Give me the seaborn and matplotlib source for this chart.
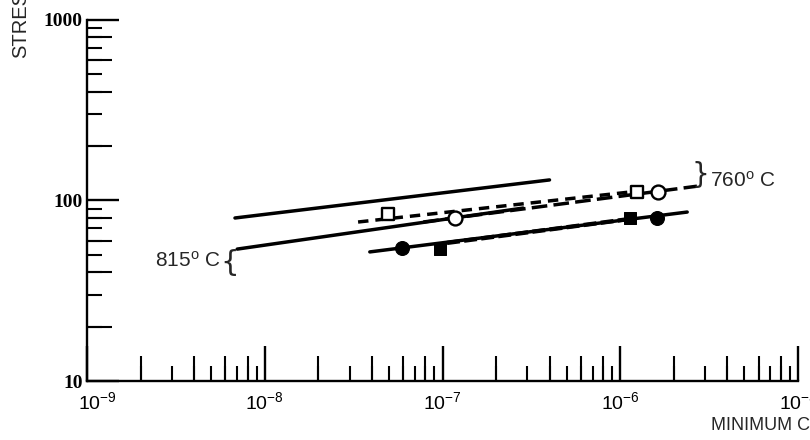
import numpy as np
import pandas as pd
import seaborn as sns
import matplotlib.pyplot as plt
import matplotlib.transforms as mtransforms
from matplotlib.ticker import FixedLocator, NullFormatter, NullLocator, FixedFormatter

# line end points (creep rate, stress)
top_solid_x = [6.8e-9, 4.0e-7]
top_solid_y = [80.0, 130.0]
mid_solid_x = [7.0e-9, 2.84e-7]
mid_solid_y = [53.8, 90.8]
dash_sq_x = [3.35e-8, 1.29e-6]
dash_sq_y = [76.0, 113.0]
dash_ci_x = [7.8e-8, 2.7e-6]
dash_ci_y = [76.0, 120.0]
low_solid_x = [3.9e-8, 2.38e-6]
low_solid_y = [51.9, 86.3]
low_dash_x = [1.06e-7, 1.13e-6]
low_dash_y = [58.2, 79.0]

# symbols
open_sq_x = [4.93e-8, 1.24e-6]
open_sq_y = [84.0, 111.0]
open_ci_x = [1.17e-7, 1.63e-6]
open_ci_y = [80.0, 111.0]
fill_ci_x = [5.9e-8, 1.61e-6]
fill_ci_y = [54.6, 80.0]
fill_sq_x = [9.7e-8, 1.13e-6]
fill_sq_y = [53.8, 80.0]

decades = [1e-9, 1e-8, 1e-7, 1e-6, 1e-5]
decade_labels = ['$10^{-9}$', '$10^{-8}$', '$10^{-7}$', '$10^{-6}$', '$10^{-5}$']
y_major = [10, 100, 1000]
y_labels = ['10', '100', '1000']

sns.set_style('white')
plt.rcParams['font.family'] = ['Liberation Sans', 'DejaVu Sans']
plt.rcParams['mathtext.fontset'] = 'custom'
plt.rcParams['mathtext.rm'] = 'Liberation Sans'
plt.rcParams['mathtext.it'] = 'Liberation Sans'

fig = plt.figure(figsize=(8.1, 4.4), dpi=100)
ax = fig.add_axes([87/810, 59/440, 711/810, 361/440])
ax.set_xscale('log')
ax.set_yscale('log')
ax.set_xlim(1e-9, 1e-5)
ax.set_ylim(10, 1000)

lw = 2.5
sns.lineplot(x=top_solid_x, y=top_solid_y, ax=ax, color='black', linewidth=lw)
sns.lineplot(x=mid_solid_x, y=mid_solid_y, ax=ax, color='black', linewidth=lw)
sns.lineplot(x=dash_sq_x, y=dash_sq_y, ax=ax, color='black', linewidth=lw)
ax.lines[-1].set_dashes([3.0, 2.0])
sns.lineplot(x=dash_ci_x, y=dash_ci_y, ax=ax, color='black', linewidth=lw)
ax.lines[-1].set_dashes([4.5, 1.8])
sns.lineplot(x=low_solid_x, y=low_solid_y, ax=ax, color='black', linewidth=lw)
sns.lineplot(x=low_dash_x, y=low_dash_y, ax=ax, color='black', linewidth=lw + 0.6)
ax.lines[-1].set_dashes([3.0, 1.0])

sns.scatterplot(x=open_sq_x, y=open_sq_y, ax=ax, marker='s', s=80,
                facecolor='white', edgecolor='black', linewidth=1.7, zorder=5)
sns.scatterplot(x=open_ci_x, y=open_ci_y, ax=ax, marker='o', s=100,
                facecolor='white', edgecolor='black', linewidth=1.7, zorder=5)
sns.scatterplot(x=fill_ci_x, y=fill_ci_y, ax=ax, marker='o', s=100,
                color='black', edgecolor='black', zorder=5)
sns.scatterplot(x=fill_sq_x, y=fill_sq_y, ax=ax, marker='s', s=80,
                color='black', edgecolor='black', zorder=5)

# axes styling
for side in ['top', 'right']:
    ax.spines[side].set_visible(False)
for side in ['left', 'bottom']:
    ax.spines[side].set_linewidth(1.7)
    ax.spines[side].set_color('black')

ax.xaxis.set_major_locator(FixedLocator(decades))
ax.xaxis.set_major_formatter(FixedFormatter(decade_labels))
x_minor = [m * d for d in decades[:-1] for m in range(2, 10)]
ax.xaxis.set_minor_locator(FixedLocator(x_minor))
ax.xaxis.set_minor_formatter(NullFormatter())

ax.yaxis.set_major_locator(FixedLocator(y_major))
ax.yaxis.set_major_formatter(FixedFormatter(y_labels))
y_minor = [m * d for d in y_major[:-1] for m in range(2, 10)]
ax.yaxis.set_minor_locator(FixedLocator(y_minor))
ax.yaxis.set_minor_formatter(NullFormatter())

ax.tick_params(which='both', bottom=True, left=True, colors='black')
ax.tick_params(which='major', direction='in', length=25, width=1.7, labelsize=14, pad=7)
ax.tick_params(which='minor', direction='in', length=11, width=1.5)
ax.tick_params(axis='y', which='major', length=23, labelsize=14, pad=3)
for lab in ax.get_yticklabels():
    lab.set_family(['Liberation Serif', 'DejaVu Serif'])
    lab.set_fontweight('bold')

# first x label sits a little to the right in the original
first = ax.get_xticklabels()[0]
first.set_transform(first.get_transform() + mtransforms.ScaledTranslation(10/100, 0, fig.dpi_scale_trans))

# longer ticks on the even sub-decades
secx = ax.secondary_xaxis('bottom', functions=(lambda v: v, lambda v: v))
secx.set_xticks([m * d for d in decades[:-1] for m in (2, 4, 6, 8)])
secx.xaxis.set_minor_locator(NullLocator())
secx.tick_params(which='both', bottom=True, direction='in', length=18, width=1.5,
                 labelbottom=False, colors='black')
secx.spines['bottom'].set_visible(False)

secy = ax.secondary_yaxis('left', functions=(lambda v: v, lambda v: v))
secy.set_yticks([m * d for d in y_major[:-1] for m in (2, 4, 6, 8)])
secy.yaxis.set_minor_locator(NullLocator())
secy.tick_params(which='both', left=True, direction='in', length=18, width=1.5,
                 labelleft=False, colors='black')
secy.spines['left'].set_visible(False)

# annotations
ax.text(0.188, 0.334, '815$^{\\mathrm{o}}$ C', transform=ax.transAxes,
        ha='right', va='center', fontsize=15)
ax.text(0.201, 0.327, '{', transform=ax.transAxes, ha='center', va='center',
        fontsize=21, family=['DejaVu Sans'])
ax.text(0.863, 0.57, '}', transform=ax.transAxes, ha='center', va='center',
        fontsize=20, family=['DejaVu Sans'])
ax.text(0.876, 0.556, '760$^{\\mathrm{o}}$ C', transform=ax.transAxes,
        ha='left', va='center', fontsize=15)

fig.text(711/810, 1 - 425/440, 'MINIMUM CREEP RATE', ha='left', va='center', fontsize=13)
fig.text(21/810, 1 - 58/440, 'STRESS', ha='center', va='bottom', rotation=90, fontsize=14.5)

fig.savefig('out.png', dpi=100)
